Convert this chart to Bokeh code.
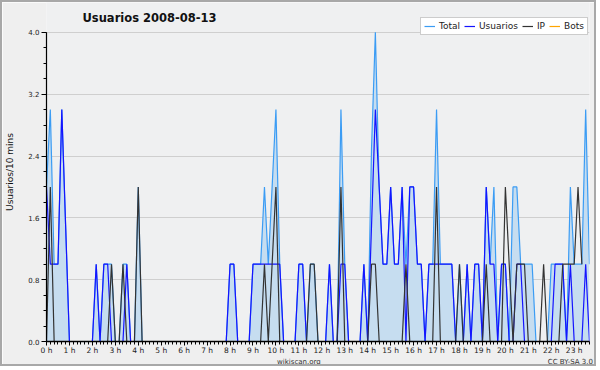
from bokeh.plotting import figure
from bokeh.models import (Range1d, FixedTicker, Legend, LegendItem, Label, LinearAxis,
                          NumeralTickFormatter)
from bokeh.embed import file_html
from bokeh.resources import INLINE

# ---- data (one value per 10-minute slot, 00:00 .. 23:40) ----
usuarios = [2, 1, 1, 1, 3, 1.5, 0, 0, 0, 0, 0, 0,
            0, 1, 0, 1, 1, 0, 0, 0, 0, 1, 0, 0,
            0, 0, 0, 0, 0, 0, 0, 0, 0, 0, 0, 0,
            0, 0, 0, 0, 0, 0, 0, 0, 0, 0, 0, 0,
            1, 1, 0, 0, 0, 0, 1, 1, 1, 1, 1, 1,
            1, 1, 0, 0, 0, 0, 1, 1, 0, 0, 0, 0,
            0, 0, 1, 0, 0, 1, 1, 0, 0, 0, 0, 1,
            0, 1.5, 3, 2, 1, 1, 2, 1, 1, 2, 0, 2,
            2, 1, 1, 0, 1, 1, 1, 1, 1, 1, 1, 0,
            0, 0, 1, 0, 1, 1, 0, 2, 1, 1, 0, 1,
            1, 0, 0, 1, 1, 0, 0, 0, 0, 0, 0, 0,
            0, 1, 1, 1, 0, 1, 0, 0, 0, 1, 0]
ip = [0, 2, 0, 0, 0, 0, 0, 0, 0, 0, 0, 0,
      0, 0, 0, 0, 0, 1, 0, 0, 1, 0, 0, 0,
      2, 0, 0, 0, 0, 0, 0, 0, 0, 0, 0, 0,
      0, 0, 0, 0, 0, 0, 0, 0, 0, 0, 0, 0,
      0, 0, 0, 0, 0, 0, 0, 0, 0, 1, 0, 1,
      2, 0, 0, 0, 0, 0, 0, 0, 0, 1, 1, 0,
      0, 0, 0, 0, 0, 2, 0, 0, 0, 0, 0, 0,
      0, 1, 1, 0, 0, 0, 0, 0, 0, 0, 1, 0,
      0, 0, 0, 0, 0, 0, 2, 0, 0, 0, 0, 0,
      1, 0, 0, 0, 0, 0, 0, 1, 0, 0, 0, 0,
      2, 1, 0, 1, 1, 1, 0, 0, 0, 0, 1, 0,
      0, 0, 0, 1, 1, 1, 1, 2, 1]
total = [2, 3, 1, 1, 3, 1.5, 0, 0, 0, 0, 0, 0,
         0, 1, 0, 1, 1, 1, 0, 0, 1, 1, 0, 0,
         2, 0, 0, 0, 0, 0, 0, 0, 0, 0, 0, 0,
         0, 0, 0, 0, 0, 0, 0, 0, 0, 0, 0, 0,
         1, 1, 0, 0, 0, 0, 1, 1, 1, 2, 1, 2,
         3, 1, 0, 0, 0, 0, 1, 1, 0, 1, 1, 0,
         0, 0, 1, 0, 0, 3, 1, 0, 0, 0, 0, 1,
         0, 2.5, 4, 2, 1, 1, 2, 1, 1, 2, 1, 2,
         2, 1, 1, 0, 1, 1, 3, 1, 1, 1, 1, 0,
         1, 0, 1, 0, 1, 1, 0, 2, 1, 2, 0, 1,
         1, 0, 2, 2, 1, 1, 1, 1, 0, 0, 0, 0,
         1, 1, 1, 1, 0, 2, 1, 1, 1, 3, 1]
bots = [0] * 143
hour_labels = ["0 h", "1 h", "2 h", "3 h", "4 h", "5 h", "6 h", "7 h", "8 h", "9 h",
               "10 h", "11 h", "12 h", "13 h", "14 h", "15 h", "16 h", "17 h", "18 h",
               "19 h", "20 h", "21 h", "22 h", "23 h"]
y_ticks = [0.0, 0.8, 1.6, 2.4, 3.2, 4.0]
title_text = "Usuarios  2008-08-13"
footer_texts = ["wikiscan.org", "CC BY-SA 3.0"]

slots = list(range(len(total)))
FONT = "DejaVu Sans"
BG = "#efefef"

# frame spans the full height above the axis so title and legend can sit in it
p = figure(width=596, height=366, output_backend="svg", toolbar_location=None,
           x_range=Range1d(0, len(slots) - 1), y_range=Range1d(0, 4.386),
           min_border_left=44, min_border_right=9, min_border_top=0, min_border_bottom=24,
           background_fill_color="#eff0f1", border_fill_color=BG)
p.outline_line_color = None
p.styles = {"border": "2px solid #a8a8a8"}

# areas and lines
p.varea(x=slots, y1=0, y2=total, fill_color="#c6ddf0", fill_alpha=1.0)
r_bots = p.line(slots, bots, line_color="#ffa500", line_width=1.2)
r_total = p.line(slots, total, line_color="#3b9cf4", line_width=1.2)
r_user = p.line(slots, usuarios, line_color="#1414ff", line_width=1.2)
r_ip = p.line(slots, ip, line_color="#333333", line_width=1.2)

# grid
p.xgrid.visible = False
p.ygrid.ticker = FixedTicker(ticks=y_ticks)
p.ygrid.grid_line_color = "#cfcfcf"
p.ygrid.grid_line_width = 1

# y axis
p.yaxis.ticker = FixedTicker(ticks=y_ticks, minor_ticks=[k * 0.2 for k in range(21)])
p.yaxis.bounds = (0, 4)
p.yaxis.formatter = NumeralTickFormatter(format="0.0")
p.yaxis.major_label_text_font = FONT
p.yaxis.major_label_text_font_size = "7px"
p.yaxis.major_label_text_color = "#222222"
p.yaxis.major_label_standoff = 2
p.yaxis.major_tick_out = 5
p.yaxis.major_tick_in = 0
p.yaxis.minor_tick_out = 3
p.yaxis.minor_tick_in = 0
p.yaxis.axis_line_color = "black"
p.yaxis.axis_line_width = 1.2
p.yaxis.axis_label = "Usuarios/10 mins"
p.yaxis.axis_label_text_font = FONT
p.yaxis.axis_label_text_font_size = "9px"
p.yaxis.axis_label_text_font_style = "normal"
p.yaxis.axis_label_text_color = "#111111"
p.yaxis.axis_label_standoff = 10

# x axis
p.xaxis.ticker = FixedTicker(ticks=[6 * h for h in range(len(hour_labels))],
                             minor_ticks=slots)
p.xaxis.major_label_overrides = {6 * h: lbl for h, lbl in enumerate(hour_labels)}
p.xaxis.major_label_text_font = FONT
p.xaxis.major_label_text_font_size = "7.5px"
p.xaxis.major_label_text_color = "#222222"
p.xaxis.major_label_standoff = 0
p.xaxis.major_tick_out = 4
p.xaxis.major_tick_in = 0
p.xaxis.minor_tick_out = 3
p.xaxis.minor_tick_in = 0
p.xaxis.axis_line_color = "black"
p.xaxis.axis_line_width = 1.5

# footer line (site name centred under the chart, licence at the right)
foot_pos = [66, 137]
foot_axis = LinearAxis(ticker=FixedTicker(ticks=foot_pos),
                       major_label_overrides=dict(zip(foot_pos, footer_texts)),
                       axis_line_color=None, major_tick_line_color=None,
                       minor_tick_line_color=None, major_tick_out=0, major_tick_in=0,
                       minor_tick_out=0, minor_tick_in=0, major_label_standoff=0,
                       major_label_text_font=FONT, major_label_text_font_size="7px",
                       major_label_text_color="#333333")
p.add_layout(foot_axis, "below")

# chart title (inside the tall frame, above the 4.0 line)
p.add_layout(Label(x=36, y=324, x_units="screen", y_units="screen", text=title_text,
                   text_font=FONT, text_font_size="11.5px", text_font_style="bold",
                   text_color="#111111", text_align="left", text_baseline="alphabetic"))

# legend
legend = Legend(items=[LegendItem(label="Total", renderers=[r_total]),
                       LegendItem(label="Usuarios", renderers=[r_user]),
                       LegendItem(label="IP", renderers=[r_ip]),
                       LegendItem(label="Bots", renderers=[r_bots])],
                orientation="horizontal", location=(374, 306),
                label_text_font=FONT, label_text_font_size="9px", label_text_color="#222222",
                glyph_width=11, glyph_height=10, label_height=10, label_width=0,
                label_standoff=4, spacing=4, padding=3, margin=0,
                background_fill_color="white", background_fill_alpha=1.0,
                border_line_color="#9a9a9a", border_line_width=1.5)
p.add_layout(legend, "center")

open("out.html", "w").write(file_html(p, INLINE))
